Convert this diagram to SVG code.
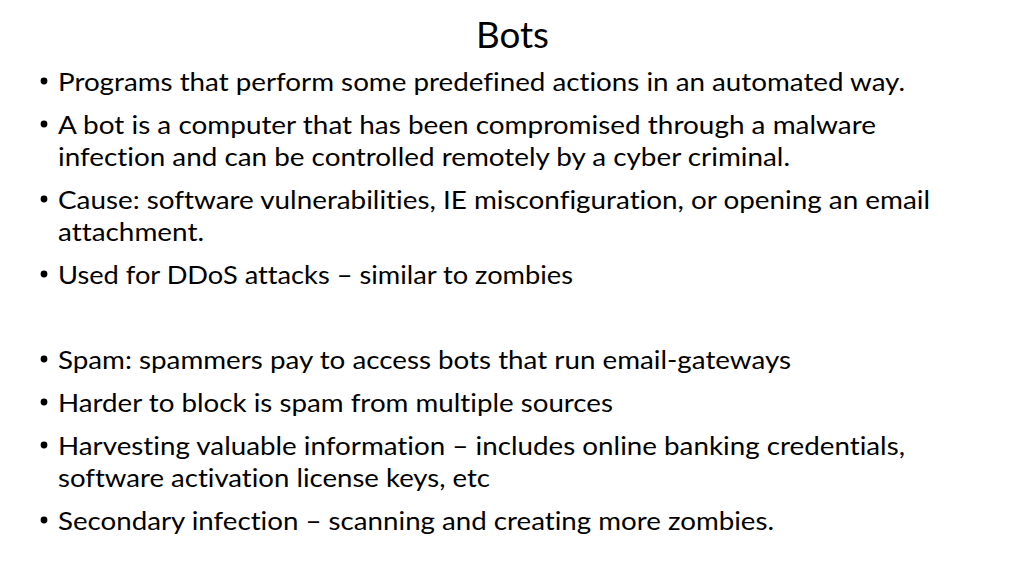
<svg xmlns="http://www.w3.org/2000/svg" width="1024" height="576" viewBox="0 0 1024 576">
<style>
.t{font-family:Lato,"Open Sans","Liberation Sans",sans-serif;font-size:25px;fill:#000;font-variant-ligatures:none}
.h{font-family:Lato,"Open Sans","Liberation Sans",sans-serif;font-size:36px;fill:#000}
.b{fill:#000}
</style>
<rect width="1024" height="576" fill="#fff"/>
<g id="title"><text class="h" x="476" y="48" textLength="73" lengthAdjust="spacingAndGlyphs">Bots</text></g>
<g id="b1"><circle class="b" cx="44" cy="81" r="3.4"/><text class="t" x="58" y="91" textLength="847" lengthAdjust="spacingAndGlyphs">Programs that perform some predefined actions in an automated way.</text></g>
<g id="b2"><circle class="b" cx="44" cy="124" r="3.4"/><text class="t" x="58" y="134" textLength="818" lengthAdjust="spacingAndGlyphs">A bot is a computer that has been compromised through a malware</text><text class="t" x="58" y="166" textLength="732" lengthAdjust="spacingAndGlyphs">infection and can be controlled remotely by a cyber criminal.</text></g>
<g id="b3"><circle class="b" cx="44" cy="199" r="3.4"/><text class="t" x="58" y="209" textLength="872" lengthAdjust="spacingAndGlyphs">Cause: software vulnerabilities, IE misconfiguration, or opening an email</text><text class="t" x="58" y="241" textLength="146" lengthAdjust="spacingAndGlyphs">attachment.</text></g>
<g id="b4"><circle class="b" cx="44" cy="274" r="3.4"/><text class="t" x="58" y="284" textLength="515" lengthAdjust="spacingAndGlyphs">Used for DDoS attacks – similar to zombies</text></g>
<g id="b5"><circle class="b" cx="44" cy="359" r="3.4"/><text class="t" x="58" y="369" textLength="733" lengthAdjust="spacingAndGlyphs">Spam: spammers pay to access bots that run email-gateways</text></g>
<g id="b6"><circle class="b" cx="44" cy="402" r="3.4"/><text class="t" x="58" y="412" textLength="555" lengthAdjust="spacingAndGlyphs">Harder to block is spam from multiple sources</text></g>
<g id="b7"><circle class="b" cx="44" cy="445" r="3.4"/><text class="t" x="58" y="455" textLength="847" lengthAdjust="spacingAndGlyphs">Harvesting valuable information – includes online banking credentials,</text><text class="t" x="58" y="487" textLength="432" lengthAdjust="spacingAndGlyphs">software activation license keys, etc</text></g>
<g id="b8"><circle class="b" cx="44" cy="520" r="3.4"/><text class="t" x="58" y="530" textLength="716" lengthAdjust="spacingAndGlyphs">Secondary infection – scanning and creating more zombies.</text></g>
<g id="connectors"/>
</svg>
